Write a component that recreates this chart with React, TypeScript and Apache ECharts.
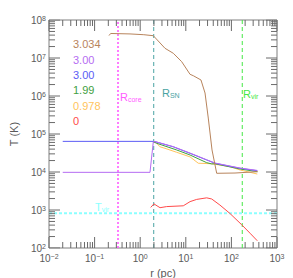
import React, { useEffect, useRef } from "react";
import * as echarts from "echarts";

const X_MIN = 0.01;
const X_MAX = 1000;
const Y_MIN = 1e2;
const Y_MAX = 1e8;

const xDecades = [0.01, 0.1, 1, 10, 100, 1000];
const yDecades = [1e2, 1e3, 1e4, 1e5, 1e6, 1e7, 1e8];
const mantissas = [2, 3, 4, 5, 6, 7, 8, 9];

const seriesLabels = ["3.034", "3.00", "3.00", "1.99", "0.978", "0"];
const seriesColors = ["#b8845c", "#b56cf2", "#5c5cf5", "#3f9f3f", "#ffc45c", "#ff4a4a"];

const brownCurve = [
  [0.207, 3.9e7], [0.225, 4.42e7], [0.597, 4.3e7], [1.2, 4.1e7], [1.94, 3.86e7],
  [3.5, 1.8e7], [5.32, 1.33e7], [8.13, 8.0e6], [12.4, 3.72e6], [14.6, 3.42e6],
  [21.5, 2.64e6], [26.4, 1.2e6], [31.1, 2.63e5], [37.6, 3.8e4], [47.6, 9.25e3],
  [120, 9.4e3], [378, 1.02e4],
];
const purpleCurve = [
  [0.02, 9.8e3], [1.64, 9.8e3], [1.94, 6.3e4], [2.1, 6.35e4], [5.3, 4.65e4],
  [12.4, 3.15e4], [28.7, 2.1e4], [43.6, 1.72e4], [155, 1.27e4], [370, 1.1e4],
];
const blueCurve = [
  [0.02, 6.4e4], [1.94, 6.4e4], [2.1, 6.3e4], [5.3, 4.6e4], [12.4, 3.1e4],
  [28.7, 2.07e4], [43.6, 1.7e4], [155, 1.25e4], [370, 1.08e4],
];
const greenCurve = [
  [1.94, 6.3e4], [2.3, 5.7e4], [6.3, 3.8e4], [12.4, 2.8e4], [28.7, 1.76e4],
  [37, 1.63e4], [43.6, 1.65e4], [155, 1.2e4], [370, 1.02e4],
];
const orangeCurve = [
  [1.94, 6.3e4], [2.3, 5.7e4], [2.72, 4.6e4], [3.5, 4.2e4], [6.3, 3.3e4],
  [12.4, 2.5e4], [18.8, 1.7e4], [37, 1.65e4], [93, 1.38e4], [155, 1.13e4], [370, 8.85e3],
];
const redCurve = [
  [1.7, 1.17e3], [2.0, 1.45e3], [2.72, 1.15e3], [3.8, 1.23e3], [8.8, 1.29e3],
  [12.4, 1.66e3], [17.3, 1.9e3], [28.7, 2.09e3], [37, 1.95e3], [56, 1.35e3],
  [93, 8.1e2], [168, 4.1e2], [256, 2.45e2], [370, 1.55e2],
];
const curves = [brownCurve, purpleCurve, blueCurve, greenCurve, orangeCurve, redCurve];
const drawOrder = [4, 3, 2, 1, 0, 5];

const rCore = 0.326;
const rSN = 1.98;
const rVir = 173;
const tVir = 820;

const borderColor = "#7f7f7f";
const tickColor = "#6a6a6a";
const labelColor = "#5a5a5a";
const FONT = "Liberation Sans, Arial, sans-serif";

const GRID = { left: 49, top: 20, right: 16, bottom: 30 };
const PLOT_W = 293 - GRID.left - GRID.right;
const PLOT_H = 278 - GRID.top - GRID.bottom;
const PX_PER_DEC_X = PLOT_W / Math.log10(X_MAX / X_MIN);
const PX_PER_DEC_Y = PLOT_H / Math.log10(Y_MAX / Y_MIN);

function minorOf(decades: number[]) {
  const out: number[] = [];
  decades.slice(0, -1).forEach((d) => mantissas.forEach((m) => out.push(d * m)));
  return out;
}

function refLine(data: any[], color: string, dash: number[], width: number) {
  return {
    type: "line",
    data,
    symbol: "none",
    silent: true,
    z: 3,
    lineStyle: { color, type: dash, width },
  };
}

const gap = ["-", "-"];

function xTicks(vals: number[], lenPx: number) {
  const f = Math.pow(10, lenPx / PX_PER_DEC_Y);
  const d: any[] = [];
  vals.forEach((v) => d.push([v, Y_MIN], [v, Y_MIN * f], gap, [v, Y_MAX], [v, Y_MAX / f], gap));
  return { type: "line", data: d, symbol: "none", z: 5, lineStyle: { color: tickColor, width: 1 } };
}

function yTicks(vals: number[], lenPx: number) {
  const f = Math.pow(10, lenPx / PX_PER_DEC_X);
  const d: any[] = [];
  vals.forEach((v) => d.push([X_MIN, v], [X_MIN * f, v], gap, [X_MAX, v], [X_MAX / f, v], gap));
  return { type: "line", data: d, symbol: "none", z: 5, lineStyle: { color: tickColor, width: 1 } };
}

function expLabel(value: number) {
  const e = Math.round(Math.log10(value));
  return "10{sup|" + (e < 0 ? "\u2212" + -e : String(e)) + "}";
}

const axisRich = {
  sup: { fontSize: 7, verticalAlign: "top", lineHeight: 8, color: labelColor, fontFamily: FONT },
};

function subText(x: number, y: number, main: string, sub: string, color: string) {
  return {
    type: "text",
    x,
    y,
    silent: true,
    style: {
      text: main + "{s|" + sub + "}",
      fill: color,
      fontSize: 11,
      fontFamily: FONT,
      verticalAlign: "middle",
      rich: { s: { fontSize: 7, verticalAlign: "bottom", fill: color, fontFamily: FONT } },
    },
  };
}

export default function App() {
  const ref = useRef<HTMLDivElement>(null);
  useEffect(() => {
    if (!ref.current) return;
    const chart = echarts.init(ref.current, null, { renderer: "svg" });
    const legendY = [44, 60, 75, 90, 106, 121];
    const labelGraphics: any[] = [
      ...seriesLabels.map((t, i) => ({
        type: "text",
        x: 73,
        y: legendY[i],
        silent: true,
        style: {
          text: t,
          fill: seriesColors[i],
          fontSize: 11,
          fontFamily: FONT,
          verticalAlign: "middle",
        },
      })),
      subText(120, 97, "R", "core", "#ff5cff"),
      subText(162, 93, "R", "SN", "#4aa3a3"),
      subText(243, 94, "R", "vir", "#44e844"),
      subText(95, 207, "T", "vir", "#8cffff"),
    ];
    const option: any = {
      animation: false,
      grid: {
        ...GRID,
        containLabel: false,
        outerBoundsMode: "none",
        show: true,
        borderColor,
        borderWidth: 1,
        backgroundColor: "transparent",
      },
      xAxis: {
        type: "log",
        min: X_MIN,
        max: X_MAX,
        splitNumber: 5,
        name: "r (pc)",
        nameLocation: "middle",
        nameGap: 18,
        nameTextStyle: { fontSize: 11, color: labelColor, fontFamily: FONT },
        axisLine: { show: false },
        axisTick: { show: false },
        splitLine: { show: false },
        axisLabel: {
          formatter: expLabel,
          margin: 5,
          fontSize: 10,
          color: labelColor,
          fontFamily: FONT,
          rich: axisRich,
        },
      },
      yAxis: {
        type: "log",
        min: Y_MIN,
        max: Y_MAX,
        splitNumber: 6,
        name: "T (K)",
        nameLocation: "middle",
        nameGap: 30,
        nameTextStyle: { fontSize: 11, color: labelColor, fontFamily: FONT },
        axisLine: { show: false },
        axisTick: { show: false },
        splitLine: { show: false },
        axisLabel: {
          formatter: expLabel,
          margin: 3,
          fontSize: 10,
          color: labelColor,
          fontFamily: FONT,
          rich: axisRich,
        },
      },
      series: [
        refLine([[rCore, Y_MIN], [rCore, Y_MAX]], "#ff5cff", [2, 2], 1.6),
        refLine([[rSN, Y_MIN], [rSN, Y_MAX]], "#4aa3a3", [4, 3], 1),
        refLine([[rVir, Y_MIN], [rVir, Y_MAX]], "#44e844", [4, 3], 1),
        refLine([[X_MIN, tVir], [X_MAX, tVir]], "#8cffff", [3, 2], 2),
        ...drawOrder.map((i) => ({
          type: "line",
          name: seriesLabels[i],
          data: curves[i],
          symbol: "none",
          silent: true,
          z: 4,
          lineStyle: { color: seriesColors[i], width: 1 },
        })),
        xTicks(xDecades, 11),
        xTicks(minorOf(xDecades), 6),
        yTicks(yDecades, 11),
        yTicks(minorOf(yDecades), 6),
      ],
      graphic: labelGraphics,
    };
    chart.setOption(option);
    return () => chart.dispose();
  }, []);
  return (
    <div
      ref={ref}
      style={{ position: "fixed", left: 0, top: 0, width: 293, height: 278, background: "#fff" }}
    />
  );
}
